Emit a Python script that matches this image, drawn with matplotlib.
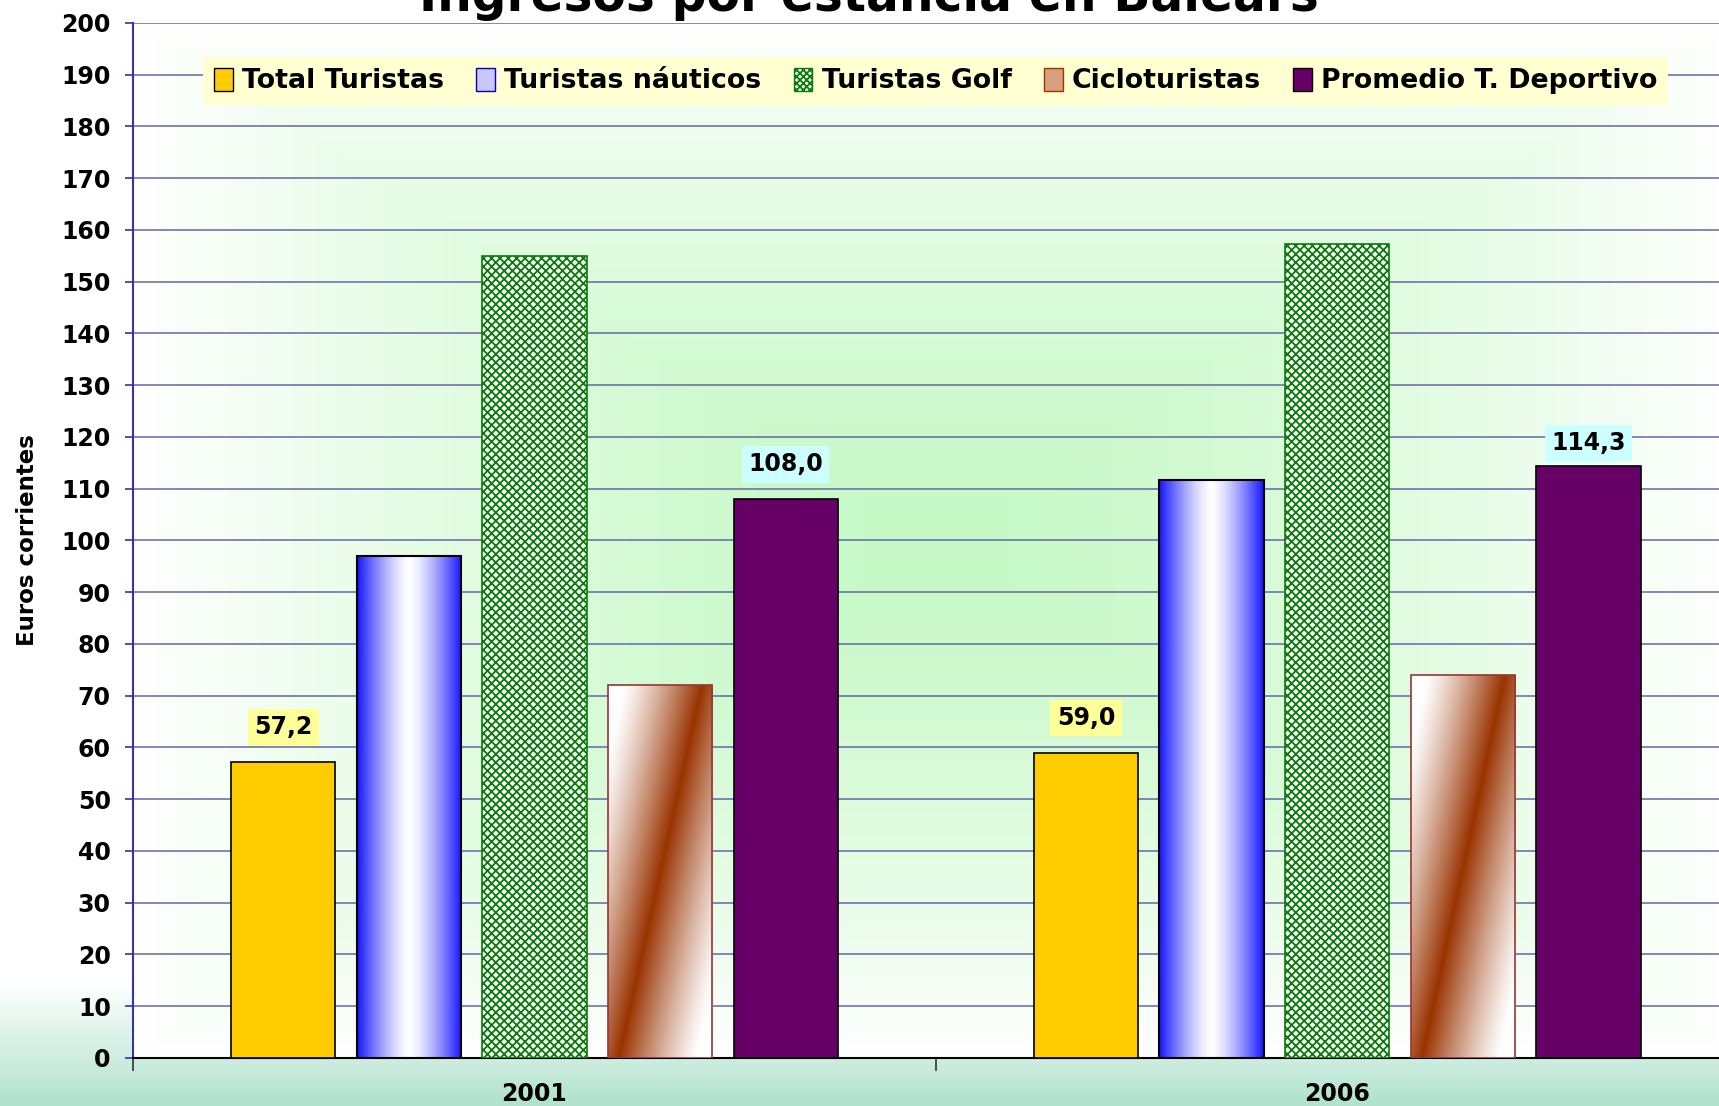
import numpy as np
import matplotlib.pyplot as plt
from matplotlib.patches import Patch
from matplotlib.colors import to_rgb

plt.rcParams['font.family'] = ['DejaVu Sans']
plt.rcParams['font.weight'] = 'bold'
plt.rcParams['hatch.linewidth'] = 1.3

# Data
years = ['2001', '2006']
series = ['Total Turistas', 'Turistas náuticos', 'Turistas Golf', 'Cicloturistas', 'Promedio T. Deportivo']
total = [57.2, 59.0]
nauticos = [97.0, 111.6]
golf = [155.0, 157.3]
ciclo = [72.0, 74.0]
promedio = [108.0, 114.3]
yticks = list(range(0, 201, 10))


def blend(c1, c2, w):
    c1 = np.array(to_rgb(c1))
    c2 = np.array(to_rgb(c2))
    return c1 * (1 - w[..., None]) + c2 * w[..., None]


fig = plt.figure(figsize=(17.19, 11.06), dpi=100)

# figure background: white fading to mint at the bottom
bg = fig.add_axes([0, 0, 1, 1], zorder=-10)
bg.axis('off')
yy = np.linspace(0, 1, 400)[:, None] * np.ones((1, 4))
w = np.clip((yy - 0.89) / 0.11, 0, 1)
bg.imshow(blend('white', '#b0e2cd', w), extent=[0, 1, 0, 1], aspect='auto')
bg.set_xlim(0, 1)
bg.set_ylim(0, 1)

ax = fig.add_axes([0.0774, 0.0434, 0.934, 0.936])
ax.patch.set_alpha(0)

# plot area: green from the centre to white edges
u = np.linspace(-1, 1, 300)
d = np.maximum(np.abs(u)[None, :], np.abs(u)[:, None])
ax.imshow(blend('#c6f9c6', 'white', d ** 1.4), extent=[0, 1, 0, 1], transform=ax.transAxes,
          aspect='auto', zorder=0, interpolation='bilinear')

x = np.arange(len(years))
width = 0.13
step = 0.1565
offs = (np.arange(5) - 2) * step

b1 = ax.bar(x + offs[0], total, width, color='#ffcc00', edgecolor='black', lw=1.2, zorder=3)
b2 = ax.bar(x + offs[1], nauticos, width, facecolor='none', edgecolor='black', lw=1.5, zorder=3)
b3 = ax.bar(x + offs[2], golf, width, facecolor='white', edgecolor='#0a7a0a', hatch='xxxx', lw=1.2, zorder=3)
b4 = ax.bar(x + offs[3], ciclo, width, facecolor='none', edgecolor='#993333', lw=1.2, zorder=3)
b5 = ax.bar(x + offs[4], promedio, width, color='#660066', edgecolor='black', lw=1.2, zorder=3)

# cylinder look for nauticos
cu = np.linspace(-1, 1, 200)[None, :] * np.ones((4, 1))
cyl = blend('white', '#1414ff', np.abs(cu) ** 1.4)
for rect in b2:
    x0, h, wd = rect.get_x(), rect.get_height(), rect.get_width()
    im = ax.imshow(cyl, extent=[x0, x0 + wd, 0, h], aspect='auto', zorder=2.9, interpolation='bilinear')
    im.set_clip_path(rect)

# diagonal band for cicloturistas
xn = np.linspace(0, 1, 120)[None, :]
yn = np.linspace(1, 0, 400)[:, None]
dd = xn - 0.8 * yn - 0.1
diag = blend('white', '#993300', np.clip(1 - np.abs(dd) / 0.75, 0, 1) ** 1.2)
for rect in b4:
    x0, h, wd = rect.get_x(), rect.get_height(), rect.get_width()
    im = ax.imshow(diag, extent=[x0, x0 + wd, 0, h], aspect='auto', zorder=2.9, interpolation='bilinear')
    im.set_clip_path(rect)

# value labels
for bars, vals, fc, lifts in [(b1, total, '#ffff99', [25, 25]), (b5, promedio, '#ccffff', [25, 16.5])]:
    for rect, v, lift in zip(bars, vals, lifts):
        ax.annotate(f'{v:.1f}'.replace('.', ','), (rect.get_x() + rect.get_width() / 2, v),
                    xytext=(0, lift), textcoords='offset points', ha='center', va='center',
                    fontsize=17, fontweight='bold', zorder=5,
                    bbox=dict(boxstyle='square,pad=0.27', fc=fc, ec='none'))

ax.set_xlim(-0.5, 1.5)
ax.set_ylim(0, 200)
ax.set_yticks(yticks)
ax.tick_params(axis='y', labelsize=17, length=6, width=1.2, color='#3333aa', pad=10)
ax.set_xticks([-0.5, 0.5, 1.5])
ax.set_xticklabels([])
ax.set_xticks(x, minor=True)
ax.set_xticklabels(years, minor=True)
ax.tick_params(axis='x', which='minor', length=0, pad=17, labelsize=17)
ax.tick_params(axis='x', which='major', length=9, width=1.2, color='#333333')

ax.set_axisbelow(True)
ax.yaxis.grid(True, color='#6666a6', lw=1.1)
ax.spines['top'].set_visible(False)
ax.spines['right'].set_visible(False)
ax.spines['left'].set_color('#3333aa')
ax.spines['left'].set_linewidth(1.5)
ax.spines['bottom'].set_color('black')
ax.spines['bottom'].set_linewidth(1.5)

handles = [
    Patch(facecolor='#ffcc00', edgecolor='black'),
    Patch(facecolor='#c8c8ff', edgecolor='#0000cc'),
    Patch(facecolor='white', edgecolor='#0a7a0a', hatch='xxxxx'),
    Patch(facecolor='#d9a080', edgecolor='#993300'),
    Patch(facecolor='#660066', edgecolor='black'),
]
ax.legend(handles, series, loc='upper center', bbox_to_anchor=(0.5, 0.967), ncol=5,
          fontsize=19.3, frameon=True, fancybox=False, facecolor='#ffffd2', edgecolor='none',
          framealpha=1, handlelength=0.7, handleheight=0.95, handletextpad=0.35,
          columnspacing=1.2, borderpad=0.4, borderaxespad=0)

fig.text(27 / 1719, 0.512, 'Euros corrientes', rotation=90, ha='center', va='center',
         fontsize=16.5, fontweight='bold')
fig.text(0.5055, 0.990, 'Ingresos por estancia en Balears', ha='center', va='baseline',
         fontsize=35, fontweight='bold')

fig.savefig('out.png', dpi=100)
